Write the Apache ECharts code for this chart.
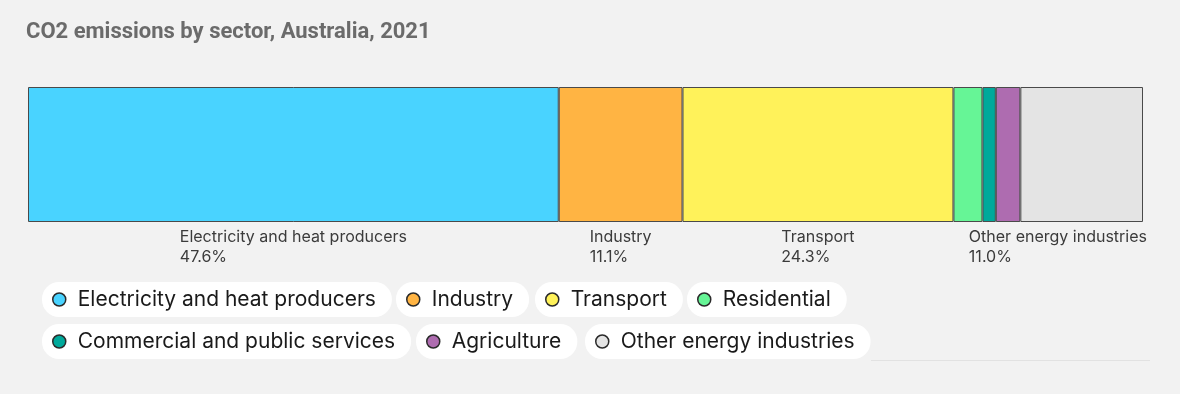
<!DOCTYPE html>
<html>
<head>
<meta charset="utf-8">
<script src="https://cdn.jsdelivr.net/npm/echarts@6/dist/echarts.min.js"></script>
<style>
  html, body { margin: 0; padding: 0; background: #f2f2f2; }
  #chart { width: 1180px; height: 394px; }
</style>
</head>
<body>
<div id="chart"></div>
<script>
const titleText = 'CO2 emissions by sector, Australia, 2021';
const categories = ['Australia 2021'];
const sectors = ['Electricity and heat producers', 'Industry', 'Transport', 'Residential',
  'Commercial and public services', 'Agriculture', 'Other energy industries'];
const shares = [47.6, 11.1, 24.3, 2.6, 1.2, 2.2, 11.0];
const colors = ['#49d3ff', '#ffb443', '#fff25a', '#66f596', '#00a99b', '#ae6cb0', '#e4e4e4'];
const labelledSectors = ['Electricity and heat producers', 'Industry', 'Transport', 'Other energy industries'];
const legendRows = [
  ['Electricity and heat producers', 'Industry', 'Transport', 'Residential'],
  ['Commercial and public services', 'Agriculture', 'Other energy industries']
];

const FONT = 'Inter, "Noto Sans", sans-serif';
const W = 1180, gridLeft = 28, gridRight = 37;
const plotW = W - gridLeft - gridRight;
const labelFontSize = 16;

const ctx = document.createElement('canvas').getContext('2d');
function textW(t, size, weight) {
  ctx.font = (weight || 'normal') + ' ' + size + 'px ' + FONT;
  return ctx.measureText(t).width;
}

const chart = echarts.init(document.getElementById('chart'), null, { renderer: 'canvas' });

let cum = 0;
const series = sectors.map((name, i) => {
  const v = shares[i];
  const centerX = gridLeft + plotW * (cum + v / 2) / 100;
  cum += v;
  const w = Math.max(textW(name, labelFontSize), textW(v.toFixed(1) + '%', labelFontSize));
  let dx = -w / 2;
  const rightLimit = 1147;
  if (centerX + dx + w > rightLimit) dx = rightLimit - w - centerX;
  const show = labelledSectors.indexOf(name) >= 0;
  return {
    name: name,
    type: 'bar',
    stack: 'total',
    barWidth: '100%',
    data: [v],
    itemStyle: { color: colors[i], borderColor: '#4a4a4a', borderWidth: 1 },
    emphasis: { disabled: true },
    label: {
      show: show,
      position: ['50%', '100%'],
      align: 'left',
      verticalAlign: 'top',
      offset: [dx, 5],
      formatter: (p) => p.seriesName + '\n' + p.value.toFixed(1) + '%',
      fontFamily: FONT,
      fontSize: labelFontSize,
      lineHeight: 20,
      color: '#3b3b3b'
    }
  };
});

const legendLefts = [[42, 396, 535, 687], [42, 416, 585]];
const legendTops = [282, 324];
const legends = [];
legendRows.forEach((row, r) => {
  row.forEach((name, k) => {
    legends.push({
      data: [name],
      left: legendLefts[r][k],
      top: legendTops[r],
      orient: 'horizontal',
      backgroundColor: '#ffffff',
      borderRadius: 17,
      padding: [7, 16, 7, 10],
      icon: 'circle',
      itemWidth: 13,
      itemHeight: 13,
      selectedMode: false,
      itemStyle: { borderColor: '#2a2a2a', borderWidth: 1.5 },
      textStyle: { fontFamily: FONT, fontSize: 21, color: '#1a1a1a', padding: [0, 0, 0, 7] }
    });
  });
});

chart.setOption({
  backgroundColor: '#f2f2f2',
  animation: false,
  title: {
    text: titleText,
    left: 21,
    top: 16,
    textStyle: { fontFamily: 'Roboto, "Liberation Sans", sans-serif', fontWeight: 'bold', fontSize: 22, color: '#6b6b6b' }
  },
  grid: { left: gridLeft, right: gridRight, top: 87, height: 135 },
  xAxis: { type: 'value', min: 0, max: 100, show: false },
  yAxis: { type: 'category', data: categories, show: false },
  legend: legends,
  graphic: [{
    type: 'line',
    shape: { x1: 871, y1: 360.5, x2: 1150, y2: 360.5 },
    style: { stroke: '#e2e2e2', lineWidth: 1 },
    silent: true
  }],
  series: series
});
</script>
</body>
</html>
